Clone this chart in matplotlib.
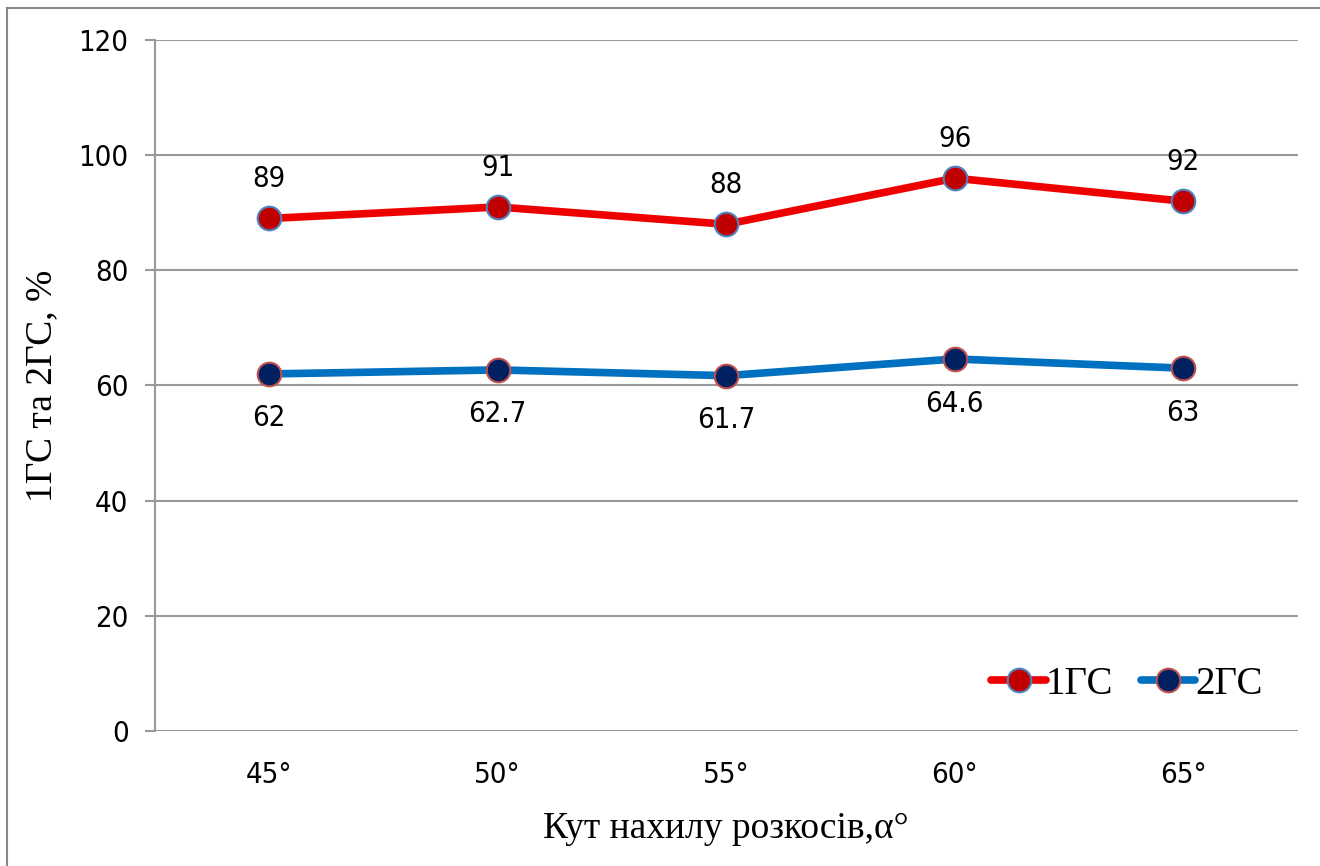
import matplotlib.pyplot as plt
from matplotlib.lines import Line2D

angles = ['45°', '50°', '55°', '60°', '65°']
gs1 = [89, 91, 88, 96, 92]
gs2 = [62, 62.7, 61.7, 64.6, 63]
gs1_labels = ['89', '91', '88', '96', '92']
gs2_labels = ['62', '62.7', '61.7', '64.6', '63']

num_font = ['DejaVu Sans']
serif_font = ['Liberation Serif', 'DejaVu Serif']
num_kw = dict(family=num_font, stretch='condensed', fontsize=21)

fig = plt.figure(figsize=(13.2, 8.66), dpi=100)
ax = fig.add_axes([0.1174, 0.156, 0.8656, 0.7978])

x = list(range(len(angles)))
ax.plot(x, gs1, color='#ee0000', lw=5.5, solid_capstyle='round', marker='o',
        ms=17, mfc='#c00000', mec='#4f81bd', mew=1.5, label='1ГС', zorder=3)
ax.plot(x, gs2, color='#0070c0', lw=5.5, solid_capstyle='round', marker='o',
        ms=17, mfc='#002060', mec='#c0504d', mew=1.5, label='2ГС', zorder=3)

for xi, v, t in zip(x, gs1, gs1_labels):
    ax.annotate(t, (xi, v), xytext=(0, 18), textcoords='offset points',
                ha='center', va='bottom', **num_kw)
for xi, v, t in zip(x, gs2, gs2_labels):
    ax.annotate(t, (xi, v), xytext=(0, -22), textcoords='offset points',
                ha='center', va='top', **num_kw)

ax.set_xlim(-0.5, 4.5)
ax.set_ylim(0, 120)
ax.set_yticks(range(0, 121, 20))
ax.set_xticks(x)
ax.set_xticklabels(angles)
ax.grid(axis='y', color='#999999', lw=1.5)
ax.set_axisbelow(True)
for s in ['top', 'right', 'bottom']:
    ax.spines[s].set_visible(False)
ax.spines['left'].set_color('#999999')
ax.spines['left'].set_linewidth(1.5)
ax.tick_params(axis='y', length=7, width=1.5, color='#999999', pad=12)
ax.tick_params(axis='x', length=0, pad=22)
for lab in ax.get_xticklabels() + ax.get_yticklabels():
    lab.set_family(num_font)
    lab.set_stretch('condensed')
    lab.set_fontsize(21)

ax.set_xlabel('Кут нахилу розкосів,α°', fontsize=27, family=serif_font, labelpad=16)
ax.set_ylabel('1ГС та 2ГС, %', fontsize=27, family=serif_font, labelpad=14)

ax.legend(loc='lower right', bbox_to_anchor=(1.0, -0.01), ncol=2, frameon=False,
          prop={'family': serif_font, 'size': 28}, handlelength=1.4,
          columnspacing=0.7, handletextpad=0.0)

# outer chart frame
fig.add_artist(Line2D([0.0053, 0.0053], [0, 0.991], color='#888888', lw=1.5,
                      transform=fig.transFigure))
fig.add_artist(Line2D([0.0053, 1], [0.991, 0.991], color='#888888', lw=1.5,
                      transform=fig.transFigure))

fig.savefig('out.png', dpi=100)
